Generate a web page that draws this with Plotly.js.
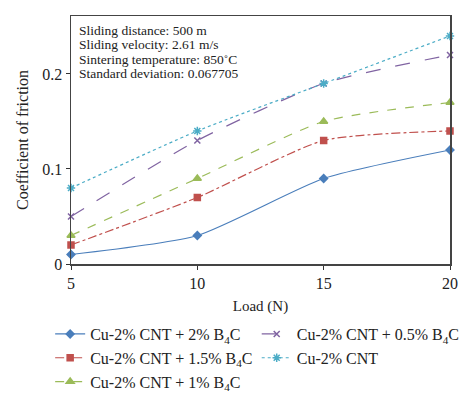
<!DOCTYPE html>
<html>
<head>
<meta charset="utf-8">
<script src="https://cdn.plot.ly/plotly-3.0.1.min.js"></script>
<style>html,body{margin:0;padding:0;background:#fff;}#chart{width:474px;height:400px;}</style>
</head>
<body>
<div id="chart"></div>
<script>
var loads = [5, 10, 15, 20];
var seriesNames = [
  "Cu-2% CNT + 2% B<sub>4</sub>C",
  "Cu-2% CNT + 1.5% B<sub>4</sub>C",
  "Cu-2% CNT + 1% B<sub>4</sub>C",
  "Cu-2% CNT + 0.5% B<sub>4</sub>C",
  "Cu-2% CNT"
];
var cnt2b4c = [0.01, 0.03, 0.09, 0.12];
var cnt15b4c = [0.02, 0.07, 0.13, 0.14];
var cnt1b4c = [0.03, 0.09, 0.15, 0.17];
var cnt05b4c = [0.05, 0.13, 0.19, 0.22];
var cntOnly = [0.08, 0.14, 0.19, 0.24];
var yTicks = [0, 0.1, 0.2];
var yTickText = ["0", "0.1", "0.2"];
var xTicks = [5, 10, 15, 20];
var infoLines = [
  "Sliding distance: 500 m",
  "Sliding velocity: 2.61 m/s",
  "Sintering temperature: 850\u02daC",
  "Standard deviation: 0.067705"
];

var font = "Liberation Serif";
var styles = [
  {color:"#4a7ebb", dash:"solid", symbol:"diamond", size:6, legend:"legend"},
  {color:"#c0504d", dash:"dashdot", symbol:"square", size:6, legend:"legend"},
  {color:"#9bbb59", dash:"dash", symbol:"triangle-up", size:7, legend:"legend"},
  {color:"#8064a2", dash:"longdash", symbol:"x-thin-open", size:6, legend:"legend2"},
  {color:"#4bacc6", dash:"dot", symbol:"asterisk-open", size:7, legend:"legend2"}
];
var values = [cnt2b4c, cnt15b4c, cnt1b4c, cnt05b4c, cntOnly];
var traces = values.map(function(v, i){
  var s = styles[i];
  return {
    x: loads, y: v, name: seriesNames[i], type:"scatter", mode:"lines+markers",
    line:{color:s.color, width:1.2, dash:s.dash, shape:"spline", smoothing:0.6},
    marker:{color:s.color, symbol:s.symbol, size:s.size, line:{color:s.color, width:1.5}},
    legend:s.legend, cliponaxis:false
  };
});

var legendFont = {family:font, size:16, color:"#222"};
var infoAnnotations = infoLines.map(function(t, i){
  return {
    xref:"paper", yref:"paper", x:0.015, y:0.9435 - i*0.0585, xanchor:"left", yanchor:"middle",
    text:t, showarrow:false, align:"left",
    font:{family:font, size:13.5, color:"#222"}
  };
});
var layout = {
  width:474, height:400,
  margin:{l:71, r:24, t:16, b:136, autoexpand:false},
  paper_bgcolor:"#fff", plot_bgcolor:"#fff",
  font:{family:font, size:14, color:"#222"},
  showlegend:true,
  xaxis:{
    range:[5,20], tickvals:xTicks, ticks:"outside", ticklen:4, tickcolor:"#333",
    ticklabelstandoff:0, automargin:false,
    showgrid:false, zeroline:false, showline:true, linecolor:"#444", linewidth:1.5, mirror:true,
    tickfont:{family:font, size:16, color:"#222"},
    title:{text:"Load (N)", font:{family:font, size:15, color:"#222"}, standoff:10}
  },
  yaxis:{
    range:[0,0.261], tickvals:yTicks, ticktext:yTickText, ticks:"outside", ticklen:4, tickcolor:"#333",
    automargin:false,
    showgrid:false, zeroline:false, showline:true, linecolor:"#444", linewidth:1.5, mirror:true,
    tickfont:{family:font, size:16, color:"#222"},
    title:{text:"Coefficient of friction", font:{family:font, size:16, color:"#222"}, standoff:9}
  },
  legend:{x:-0.055, y:-0.214, xanchor:"left", yanchor:"top", orientation:"v",
    font:legendFont, tracegroupgap:0, itemwidth:30, bgcolor:"rgba(0,0,0,0)"},
  legend2:{x:0.49, y:-0.214, xanchor:"left", yanchor:"top", orientation:"v",
    font:legendFont, tracegroupgap:0, itemwidth:30, bgcolor:"rgba(0,0,0,0)"},
  annotations:infoAnnotations
};
Plotly.newPlot("chart", traces, layout, {displayModeBar:false, staticPlot:true});
</script>
</body>
</html>
